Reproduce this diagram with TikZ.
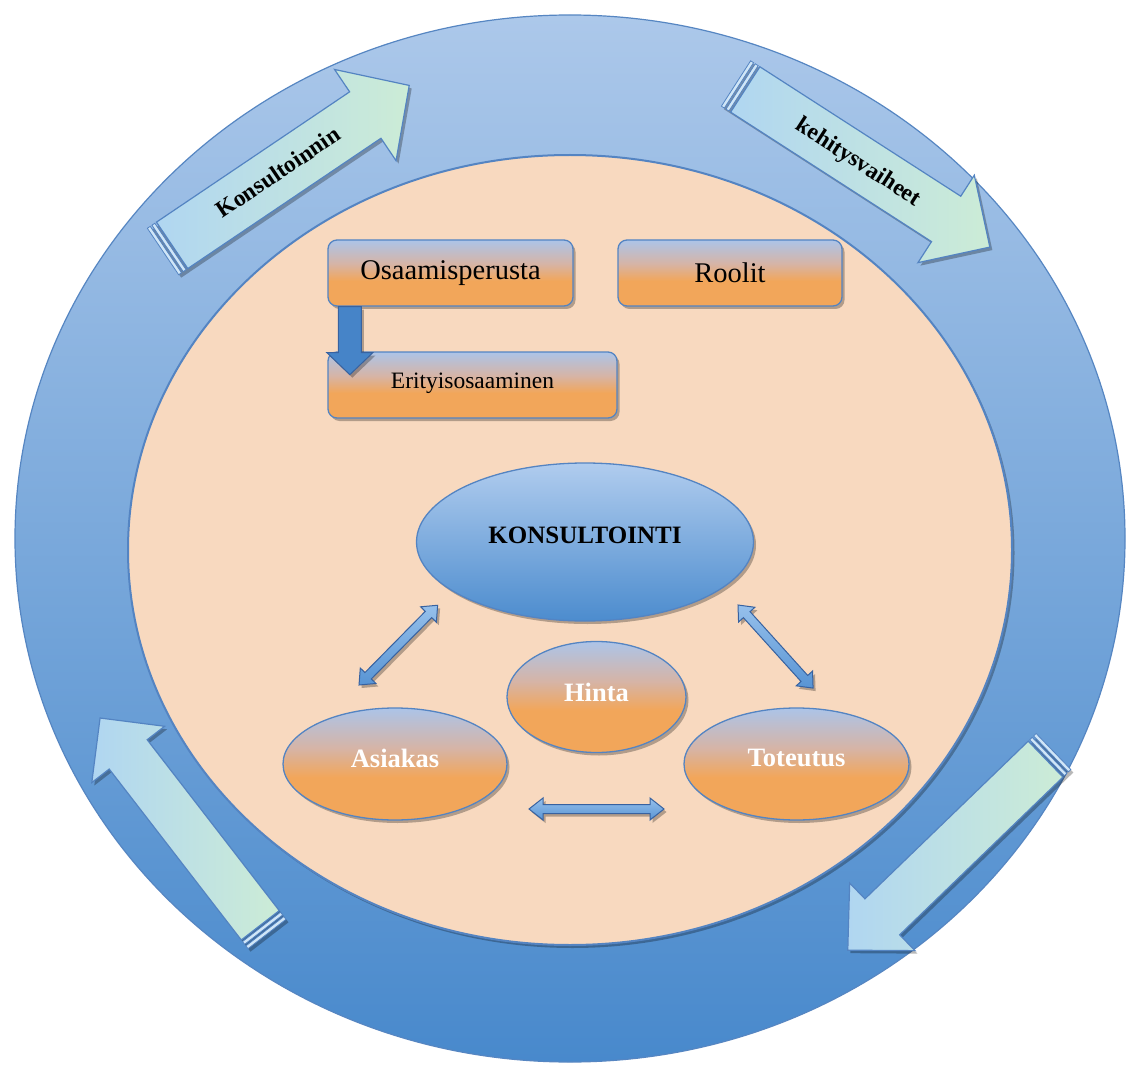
\documentclass[tikz,border=0pt]{standalone}
\usepackage{fontspec}
\setmainfont{Liberation Serif}
\usetikzlibrary{shapes.geometric,shadows,calc}

% palette
\definecolor{ringtop}{RGB}{172,200,234}
\definecolor{ringbot}{RGB}{72,137,204}
\definecolor{ringline}{RGB}{86,134,194}
\definecolor{peach}{RGB}{248,217,191}
\definecolor{paleblue}{RGB}{172,196,232}
\definecolor{dusk}{RGB}{214,180,166}
\definecolor{apricot}{RGB}{242,166,90}
\definecolor{edgeblue}{RGB}{84,132,194}
\definecolor{konstop}{RGB}{176,204,238}
\definecolor{konsbot}{RGB}{76,140,206}
\definecolor{sky}{RGB}{176,214,241}
\definecolor{mint}{RGB}{204,236,214}
\definecolor{deepblue}{RGB}{70,132,200}
\definecolor{darkedge}{RGB}{56,98,160}
\definecolor{linktop}{RGB}{150,192,235}
\definecolor{linkbot}{RGB}{88,148,212}

\pgfdeclareverticalshading{bluetoapricot}{100bp}{%
  color(0bp)=(apricot); color(44bp)=(apricot); color(57bp)=(dusk);
  color(75bp)=(paleblue); color(100bp)=(paleblue)}

\tikzset{
  softshadow/.style={drop shadow={shadow xshift=2.5pt, shadow yshift=-3pt, opacity=0.28, fill=black}},
  topicbox/.style={rectangle, rounded corners=9pt, draw=edgeblue, line width=1.3pt,
    shading=bluetoapricot, inner sep=0pt, minimum height=66pt, softshadow},
  topicoval/.style={ellipse, draw=edgeblue, line width=1.3pt, shading=bluetoapricot,
    inner sep=0pt, text=white, font=\bfseries\fontsize{26.5}{28}\selectfont, softshadow},
  coreoval/.style={ellipse, draw=edgeblue, line width=1.3pt, top color=konstop,
    bottom color=konsbot, inner sep=0pt, font=\bfseries\fontsize{25}{27}\selectfont, softshadow},
  bigarrow/.style={draw=edgeblue, line width=1.2pt, left color=sky, right color=mint},
  stripe/.style={draw=edgeblue, line width=0.8pt, fill=sky!60!white},
  arrowlabel/.style={font=\bfseries\fontsize{23.5}{25}\selectfont, inner sep=0pt},
  linkarrow/.style={draw=darkedge, line width=1pt, top color=linktop, bottom color=linkbot, softshadow},
}

\begin{document}
\begin{tikzpicture}[x=1pt, y=-1pt]
\useasboundingbox (0,0) rectangle (1127,1067);
\fill[white] (0,0) rectangle (1127,1067);

% outer ring and inner field
\draw[draw=ringline, line width=1.2pt, top color=ringtop, bottom color=ringbot]
  (570,538.5) ellipse [x radius=555pt, y radius=523.5pt];
\draw[draw=edgeblue, line width=2pt, fill=peach, softshadow]
  (570,550) ellipse [x radius=442pt, y radius=395pt];

% circular flow arrows on the ring
\begin{scope}[shift={(163,251.5)}, rotate=34]
  \path[softshadow] (0,-28) -- (244,-28) -- (244,-55) -- (297,0) -- (244,55) -- (244,28) -- (0,28) -- cycle;
  \draw[bigarrow] (11,-28) -- (244,-28) -- (244,-55) -- (297,0) -- (244,55) -- (244,28) -- (11,28) -- cycle;
  \draw[stripe] (0,-28) rectangle (3.5,28);
  \draw[stripe] (5.5,-28) rectangle (9,28);
\end{scope}
\node[arrowlabel, rotate=34] (flowa) at (278,172) {Konsultoinnin};

\begin{scope}[shift={(736,83.5)}, rotate=-32.8]
  \path[softshadow] (0,-27) -- (250,-27) -- (250,-52) -- (302,0) -- (250,52) -- (250,27) -- (0,27) -- cycle;
  \draw[bigarrow] (11,-27) -- (250,-27) -- (250,-52) -- (302,0) -- (250,52) -- (250,27) -- (11,27) -- cycle;
  \draw[stripe] (0,-27) rectangle (3.5,27);
  \draw[stripe] (5.5,-27) rectangle (9,27);
\end{scope}
\node[arrowlabel, rotate=-32.8] (flowb) at (858,163) {kehitysvaiheet};

\begin{scope}[shift={(1053.5,751.5)}, rotate=-136]
  \path[softshadow] (0,-25) -- (238,-25) -- (238,-47) -- (286,0) -- (238,47) -- (238,25) -- (0,25) -- cycle;
  \draw[bigarrow] (11,-25) -- (238,-25) -- (238,-47) -- (286,0) -- (238,47) -- (238,25) -- (11,25) -- cycle;
  \draw[stripe] (0,-25) rectangle (3.5,25);
  \draw[stripe] (5.5,-25) rectangle (9,25);
\end{scope}

\begin{scope}[shift={(267,934)}, rotate=127.7]
  \path[softshadow] (0,-24) -- (227,-24) -- (227,-46) -- (273,0) -- (227,46) -- (227,24) -- (0,24) -- cycle;
  \draw[bigarrow] (11,-24) -- (227,-24) -- (227,-46) -- (273,0) -- (227,46) -- (227,24) -- (11,24) -- cycle;
  \draw[stripe] (0,-24) rectangle (3.5,24);
  \draw[stripe] (5.5,-24) rectangle (9,24);
\end{scope}

% knowledge boxes
\node[topicbox, minimum width=245pt, font=\fontsize{28.5}{30}\selectfont] (osaam) at (450.5,273) {Osaamisperusta};
\node[topicbox, minimum width=224pt, font=\fontsize{28.5}{30}\selectfont] (roolit) at (730,273) {Roolit};
\node[topicbox, minimum width=289pt, font=\fontsize{23.5}{25}\selectfont] (erity) at (472.5,385) {\raisebox{9pt}{Erityisosaaminen}};

% block arrow from the base box down to the special box
\coordinate (drop) at ($(osaam.south west)+(22.5,0)$);
\begin{scope}[shift={(drop)}]
  \draw[draw=darkedge, line width=1pt, fill=deepblue, softshadow]
    (-11.5,0) -- (11.5,0) -- (11.5,46) -- (23,46) -- (0,68) -- (-23,46) -- (-11.5,46) -- cycle;
\end{scope}

% consulting triangle
\node[coreoval, minimum width=337pt, minimum height=158pt] (kons) at (585,542) {\raisebox{14pt}{KONSULTOINTI}};
\node[topicoval, minimum width=179pt, minimum height=111pt] (hinta) at (596.5,697) {\raisebox{10pt}{Hinta}};
\node[topicoval, minimum width=224pt, minimum height=112pt] (asiakas) at (395,764) {\raisebox{12pt}{Asiakas}};
\node[topicoval, minimum width=225pt, minimum height=112pt] (toteutus) at (796.5,764) {\raisebox{12pt}{Toteutus}};

% two-headed links
\coordinate (linkA) at (359,685);
\coordinate (linkB) at (738,605);
\coordinate (linkC) at (529,809);
\begin{scope}[shift={(linkA)}, rotate=45.4]
  \draw[linkarrow] (0,0) -- (13,11) -- (13,4.5) -- (99,4.5) -- (99,11) -- (112,0) -- (99,-11) -- (99,-4.5) -- (13,-4.5) -- (13,-11) -- cycle;
\end{scope}
\begin{scope}[shift={(linkB)}, rotate=-47.9]
  \draw[linkarrow] (0,0) -- (13,11) -- (13,4.5) -- (99,4.5) -- (99,11) -- (112,0) -- (99,-11) -- (99,-4.5) -- (13,-4.5) -- (13,-11) -- cycle;
\end{scope}
\begin{scope}[shift={(linkC)}]
  \draw[linkarrow] (0,0) -- (14,11) -- (14,4.5) -- (121,4.5) -- (121,11) -- (135,0) -- (121,-11) -- (121,-4.5) -- (14,-4.5) -- (14,-11) -- cycle;
\end{scope}

\end{tikzpicture}
\end{document}
